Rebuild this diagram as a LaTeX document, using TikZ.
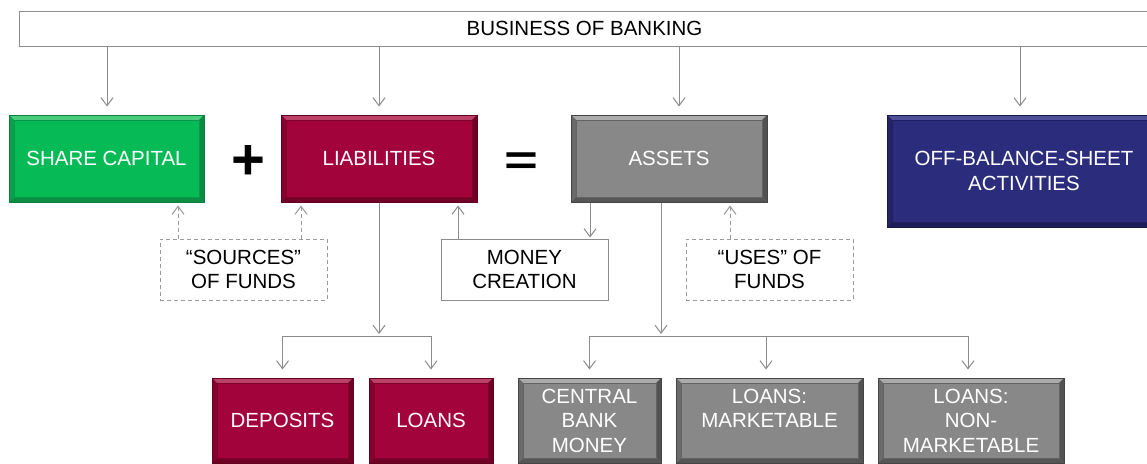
\documentclass[tikz,border=0pt]{standalone}
\usepackage{fontspec}
\usepackage{graphicx}
\setmainfont{Liberation Sans}
\usetikzlibrary{arrows.meta,calc}
\definecolor{lnc}{HTML}{8C8C8C}
\definecolor{dsh}{HTML}{9A9A9A}
\definecolor{gMain}{HTML}{06BA56}
\definecolor{gDark}{HTML}{0E7E3E}
\definecolor{gLight}{HTML}{4ACB7E}
\definecolor{rMain}{HTML}{A3033B}
\definecolor{rDark}{HTML}{62001F}
\definecolor{rLight}{HTML}{BC4168}
\definecolor{kMain}{HTML}{888888}
\definecolor{kDark}{HTML}{454545}
\definecolor{kLight}{HTML}{ABABAB}
\definecolor{nMain}{HTML}{2C2C7D}
\definecolor{nDark}{HTML}{17174A}
\definecolor{nLight}{HTML}{50509A}
\tikzset{
  bevel/.style n args={3}{fill=#1, draw=#2, line width=1pt, text=white,
    font=\fontsize{20.5}{24.5}\selectfont, align=center, inner sep=0pt,
    path picture={
      \coordinate (bnw) at (path picture bounding box.north west);
      \coordinate (bne) at (path picture bounding box.north east);
      \coordinate (bsw) at (path picture bounding box.south west);
      \coordinate (bse) at (path picture bounding box.south east);
      \fill[#3] (bnw) -- (bne) -- ([shift={(-5pt,-5pt)}]bne) -- ([shift={(5pt,-5pt)}]bnw) -- cycle;
      \fill[#2!80!#1] (bne) -- (bse) -- ([shift={(-5pt,5pt)}]bse) -- ([shift={(-5pt,-5pt)}]bne) -- cycle;
      \fill[#2!75!#1] (bsw) -- (bse) -- ([shift={(-5pt,5pt)}]bse) -- ([shift={(5pt,5pt)}]bsw) -- cycle;
      \fill[#2!45!#1] (bnw) -- (bsw) -- ([shift={(5pt,5pt)}]bsw) -- ([shift={(5pt,-5pt)}]bnw) -- cycle;
      \draw[#2!55!#1, line width=0.5pt] ([shift={(5pt,-5pt)}]bnw) rectangle ([shift={(-5pt,5pt)}]bse);
    }},
  greenbox/.style={bevel={gMain}{gDark}{gLight}},
  redbox/.style={bevel={rMain}{rDark}{rLight}},
  graybox/.style={bevel={kMain}{kDark}{kLight}},
  navybox/.style={bevel={nMain}{nDark}{nLight}},
  plainbox/.style={draw=lnc, line width=1pt, fill=white, align=center, inner sep=0pt,
    font=\fontsize{20.5}{24.5}\selectfont},
  dashbox/.style={plainbox, draw=dsh, dash pattern=on 4pt off 3pt},
  arr/.style={draw=lnc, line width=1pt, -{Straight Barb[length=8pt,width=12pt]}},
  darr/.style={arr, draw=dsh, dash pattern=on 4pt off 3pt},
  ln/.style={draw=lnc, line width=1pt},
  sym/.style={font=\fontsize{58}{58}\selectfont\bfseries, inner sep=0pt}
}
\begin{document}
\begin{tikzpicture}[x=1pt,y=-1pt]
\clip (0,0) rectangle (1147,463);
\fill[white] (0,0) rectangle (1147,463);

% top box
\node[plainbox, minimum width=1131pt, minimum height=35pt] (top) at (584.5,28.5) {BUSINESS OF BANKING};

% main boxes
\node[greenbox, minimum width=195pt, minimum height=87pt] (sc) at (106.5,158.5) {SHARE CAPITAL};
\node[redbox, minimum width=196pt, minimum height=87pt] (lia) at (379,158.5) {LIABILITIES};
\node[graybox, minimum width=196pt, minimum height=87pt] (ast) at (669,158.5) {ASSETS};
\node[navybox, minimum width=274pt, minimum height=112pt] (obs) at (1024,171) {OFF-BALANCE-SHEET\\ACTIVITIES};

\node[sym] (plus) at (248,162) {+};
\node[sym] (eq) at (521,164) {\scalebox{1}[0.72]{=}};

% middle boxes
\node[dashbox, minimum width=167pt, minimum height=61pt] (src) at (243.5,269.5) {“SOURCES”\\OF FUNDS};
\node[plainbox, minimum width=167pt, minimum height=61pt] (mc) at (524.5,269.5) {MONEY\\CREATION};
\node[dashbox, minimum width=167pt, minimum height=61pt] (use) at (769.5,269.5) {“USES” OF\\FUNDS};

% bottom boxes
\node[redbox, minimum width=141pt, minimum height=85pt] (dep) at (282.5,420.5) {DEPOSITS};
\node[redbox, minimum width=124pt, minimum height=85pt] (loa) at (431,420.5) {LOANS};
\node[graybox, minimum width=143pt, minimum height=85pt] (cbm) at (589.5,420.5) {CENTRAL\\BANK\\MONEY};
\node[graybox, minimum width=187pt, minimum height=85pt] (lm) at (769.5,420.5) {LOANS:\\MARKETABLE\\\phantom{M}};
\node[graybox, minimum width=186pt, minimum height=85pt] (lnm) at (971,420.5) {LOANS:\\NON-\\MARKETABLE};

% coordinates for connector columns
\coordinate (x1) at (107,0);
\coordinate (x2) at (379,0);
\coordinate (x3) at (679,0);
\coordinate (x4) at (1020,0);
\coordinate (d1) at (178,0);
\coordinate (d2) at (301,0);
\coordinate (m1) at (458,0);
\coordinate (m2) at (590,0);
\coordinate (u1) at (730,0);
\coordinate (lb) at (379,336);
\coordinate (ab) at (661,336);
\coordinate (lm1) at (766,0);
\coordinate (ln1) at (968,0);

% top arrows
\draw[arr, shorten >=8pt] (top.south -| x1) -- (sc.north -| x1);
\draw[arr, shorten >=8pt] (top.south -| x2) -- (lia.north -| x2);
\draw[arr, shorten >=8pt] (top.south -| x3) -- (ast.north -| x3);
\draw[arr, shorten >=8pt] (top.south -| x4) -- (obs.north -| x4);

% sources / uses
\draw[darr, shorten >=3pt] (src.north -| d1) -- (sc.south -| d1);
\draw[darr, shorten >=3pt] (src.north -| d2) -- (lia.south -| d2);
\draw[darr, shorten >=3pt] (use.north -| u1) -- (ast.south -| u1);

% money creation
\draw[arr, shorten >=3pt] (mc.north -| m1) -- (lia.south -| m1);
\draw[arr, shorten >=1pt] (ast.south -| m2) -- (mc.north -| m2);

% liabilities tree
\draw[arr, shorten >=2pt] (lia.south -| lb) -- (lb);
\draw[ln] (dep.north |- lb) -- (loa.north |- lb);
\draw[arr, shorten >=8pt] (dep.north |- lb) -- (dep.north);
\draw[arr, shorten >=8pt] (loa.north |- lb) -- (loa.north);

% assets tree
\draw[arr, shorten >=2pt] (ast.south -| ab) -- (ab);
\draw[ln] (cbm.north |- ab) -- (ab -| ln1);
\draw[arr, shorten >=8pt] (cbm.north |- ab) -- (cbm.north);
\draw[arr, shorten >=8pt] (ab -| lm1) -- (lm.north -| lm1);
\draw[arr, shorten >=8pt] (ab -| ln1) -- (lnm.north -| ln1);
\end{tikzpicture}
\end{document}
